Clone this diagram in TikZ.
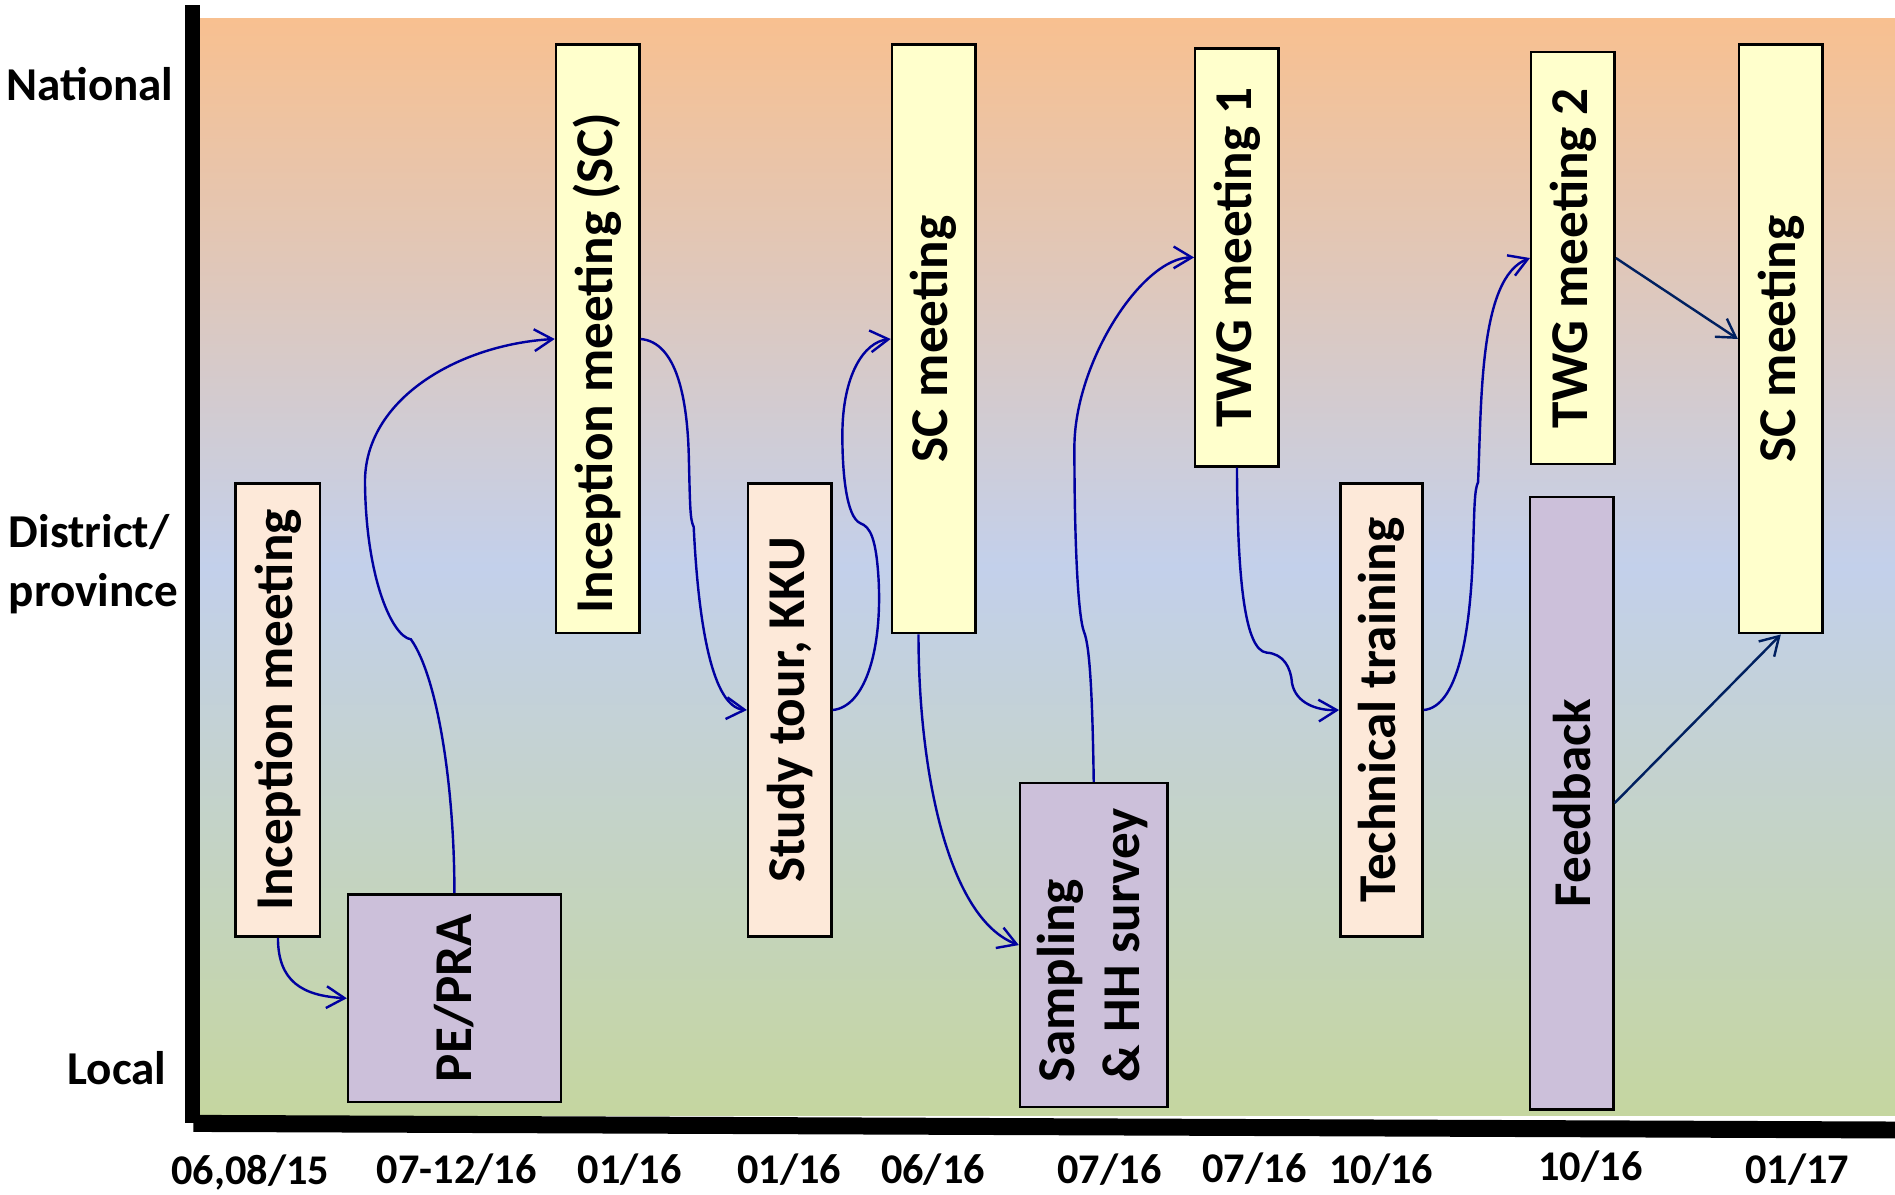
\documentclass[tikz,border=0pt]{standalone}
\usepackage{fontspec}
\usepackage{graphicx}
\setmainfont{Carlito}
\usetikzlibrary{arrows.meta}

\definecolor{peach}{HTML}{FDE9D9}
\definecolor{paleyellow}{HTML}{FFFFCC}
\definecolor{lavender}{HTML}{CCC0DA}
\definecolor{linkblue}{HTML}{0000A0}
\definecolor{linknavy}{HTML}{002060}
\definecolor{topband}{HTML}{F8C090}
\definecolor{midband}{HTML}{C3D0EB}
\definecolor{lowband}{HTML}{C5D6A0}

\begin{document}
\begin{tikzpicture}[x=0.5pt,y=-0.5pt,
  stage/.style={draw=black, line width=1pt, inner sep=0pt,
    font=\bfseries\fontsize{22pt}{27pt}\selectfont},
  dims/.style 2 args={minimum width=#1*0.5pt, minimum height=#2*0.5pt},
  link/.style={draw=linkblue, line width=1pt,
    -{Straight Barb[length=7.5pt,width=9pt]}},
  straightlink/.style={link, draw=linknavy},
  level/.style={font=\bfseries\fontsize{19.5pt}{24.5pt}\selectfont, inner sep=0pt},
  date/.style={font=\bfseries\fontsize{17.5pt}{21pt}\selectfont, inner sep=0pt}]

\useasboundingbox (0,0) rectangle (1568,988);

% backdrop: national (top) to local (bottom); middle colour set last
\shade[top color=topband, bottom color=lowband, middle color=midband]
  (165.5,15) rectangle (1568,923);

% axes
\fill[black] (153,4) rectangle (165.5,929);
\fill[black] (160,922.5) -- (1568,928) -- (1568,942) -- (160,936.6) -- cycle;

% level labels
\node[level, anchor=west] (natl) at (5,70) {National};
\node[level, anchor=west, align=left] (dist) at (7,467) {District/\\province};
\node[level, anchor=east] (local) at (138,884) {Local};

% activities
\node[stage, fill=peach, dims={70}{375}] (inc1) at (230,587.5)
  {\rotatebox{90}{Inception meeting}};
\node[stage, fill=lavender, dims={176}{172}] (pe) at (376,826)
  {\rotatebox{90}{PE/PRA}};
\node[stage, fill=paleyellow, dims={69}{487}] (incsc) at (494.5,280.5)
  {\rotatebox{90}{Inception meeting (SC)\hspace{20pt}}};
\node[stage, fill=peach, dims={69}{375}] (tour) at (653.5,587.5)
  {\rotatebox{90}{Study tour, KKU}};
\node[stage, fill=paleyellow, dims={69}{487}] (sc1) at (772.5,280.5)
  {\rotatebox{90}{SC meeting}};
\node[stage, fill=lavender, dims={122}{268}] (samp) at (905,782)
  {\rotatebox{90}{\begin{tabular}{@{}l@{}}Sampling\\ \& HH survey\end{tabular}}};
\node[stage, fill=paleyellow, dims={69}{346}] (twg1) at (1023.5,213)
  {\rotatebox{90}{TWG meeting 1}};
\node[stage, fill=peach, dims={68}{375}] (tech) at (1143,587.5)
  {\rotatebox{90}{Technical training}};
\node[stage, fill=paleyellow, dims={69}{341}] (twg2) at (1301.5,213.5)
  {\rotatebox{90}{TWG meeting 2}};
\node[stage, fill=lavender, dims={69}{507}] (feed) at (1300.5,664.5)
  {\rotatebox{90}{Feedback}};
\node[stage, fill=paleyellow, dims={69}{487}] (sc2) at (1473.5,280.5)
  {\rotatebox{90}{SC meeting}};

% dates
\node[date] (d1) at (207,970) {06,08/15};
\node[date] (d2) at (378,968) {07-12/16};
\node[date] (d3) at (521,968) {01/16};
\node[date] (d4) at (653,968) {01/16};
\node[date] (d5) at (772,968) {06/16};
\node[date] (d6) at (918,968) {07/16};
\node[date] (d7) at (1038,967) {07/16};
\node[date] (d8) at (1143,968) {10/16};
\node[date] (d9) at (1316,965) {10/16};
\node[date] (d10) at (1487,968) {01/17};

% sequence of activities
\draw[link] (inc1.south) .. controls (230,812) and (250,824) .. (pe.west);
\draw[link] (pe.north) .. controls (376,650) and (362,560) .. (340,529)
  .. controls (325,527) and (303,480) .. (302,400)
  .. controls (301,330) and (380,285) .. (incsc.west);
\draw[link] (incsc.east) .. controls (560,283) and (569,330) .. (570,380)
  .. controls (571,420) and (571,430) .. (574,436)
  .. controls (578,520) and (590,585) .. (tour.west);
\draw[link] (tour.east) .. controls (715,585) and (730,540) .. (727,480)
  .. controls (725,445) and (720,436) .. (712,433)
  .. controls (700,428) and (697,390) .. (697,360)
  .. controls (697,310) and (715,283) .. (sc1.west);
\draw[link] ([xshift=-6.25pt]sc1.south) .. controls (760,640) and (785,760) .. (samp.west);
\draw[link] (samp.north) .. controls (904,580) and (902,535) .. (897,523)
  .. controls (892,510) and (889,450) .. (889,370)
  .. controls (889,300) and (945,213) .. (twg1.west);
\draw[link] (twg1.south) .. controls (1024,480) and (1030,538) .. (1048,540)
  .. controls (1062,541) and (1068,552) .. (1069,565)
  .. controls (1072,582) and (1090,588) .. (tech.west);
\draw[link] (tech.east) .. controls (1205,585) and (1217,530) .. (1219,450)
  .. controls (1220,420) and (1220,405) .. (1223,399)
  .. controls (1226,330) and (1224,230) .. (twg2.west);
\draw[straightlink] (twg2.east) -- (sc2.west);
\draw[straightlink] (feed.east) -- (sc2.south);

\end{tikzpicture}
\end{document}
